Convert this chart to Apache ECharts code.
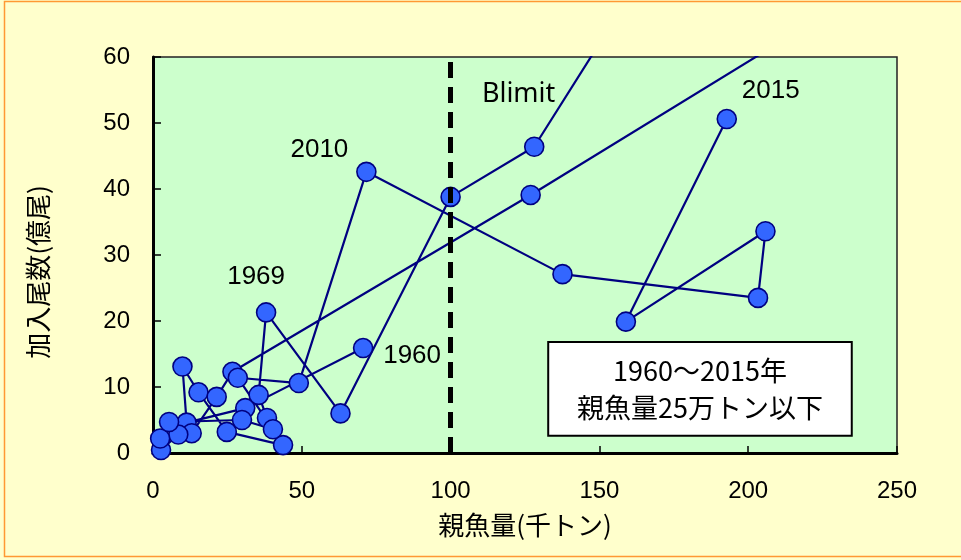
<!DOCTYPE html>
<html>
<head>
<meta charset="utf-8">
<script src="https://cdn.jsdelivr.net/npm/echarts@6/dist/echarts.min.js"></script>
<style>
html,body{margin:0;padding:0;background:#ffffcc;}
#c{width:961px;height:560px;}
</style>
</head>
<body>
<div id="c"></div>
<script>
// Years in order (1974-1996 are off the chart: spawning biomass above the range shown)
const years = [1960,1961,1962,1963,1964,1965,1966,1967,1968,1969,1970,1971,1972,1973,
               1997,1998,1999,2000,2001,2002,2003,2004,2005,2006,2007,2008,2009,2010,
               2011,2012,2013,2014,2015];
// 親魚量 (千トン)
const ssb = [70.6,31.0,11.3,9.9,15.3,24.8,43.7,38.3,35.5,38.0,63.0,100.0,128.1,166.3,
             278.5,126.9,26.7,21.4,13.0,8.5,2.7,2.4,5.4,29.9,40.3,28.5,49.0,71.7,
             137.6,203.3,205.8,158.9,192.8];
// 加入尾数 (億尾)
const recruits = [15.9,6.8,4.6,13.1,9.2,3.2,1.2,5.3,8.8,21.3,6.0,38.8,46.4,73.7,
                  81.0,39.1,12.3,8.5,3.0,2.8,0.45,2.2,4.7,5.0,3.6,11.4,10.6,42.6,
                  27.1,23.5,33.6,19.9,50.6];
const xTicks = [0,50,100,150,200,250];
const yTicks = [0,10,20,30,40,50,60];
const blimit = 100;
const blimitLabel = 'Blimit';
const yearLabels = [1960,1969,2010,2015];
const boxLines = ['1960～2015年','親魚量25万トン以下'];
const xTitle = '親魚量(千トン)';
const yTitle = '加入尾数(億尾)';

const chart = echarts.init(document.getElementById('c'), null, {renderer:'canvas'});
const numFont = "'Liberation Sans', Arial, sans-serif";
const cjkFont = "'Noto Sans CJK JP', sans-serif";

const points = ssb.map((x,i)=>[x, recruits[i]]);

chart.setOption({
  animation:false,
  backgroundColor:'#ffffcc',
  grid:{left:153, top:57, width:744, height:396, show:true,
        backgroundColor:'#ccffcc', borderColor:'#222', borderWidth:1.5},
  xAxis:{type:'value', min:xTicks[0], max:xTicks[xTicks.length-1], interval:xTicks[1]-xTicks[0],
    axisLine:{show:true, onZero:false, lineStyle:{color:'#000', width:3}},
    axisTick:{show:true, inside:true, length:7, lineStyle:{color:'#000', width:1.5}},
    axisLabel:{margin:26, fontSize:24, color:'#000', fontFamily:numFont},
    splitLine:{show:false}},
  yAxis:{type:'value', min:yTicks[0], max:yTicks[yTicks.length-1], interval:yTicks[1]-yTicks[0],
    axisLine:{show:true, onZero:false, lineStyle:{color:'#000', width:3}},
    axisTick:{show:true, inside:true, length:8, lineStyle:{color:'#000', width:1.5}},
    axisLabel:{margin:23, fontSize:24, color:'#000', fontFamily:numFont},
    splitLine:{show:false}},
  series:[
    {type:'line', data:points, clip:true, z:2,
     symbol:'circle', symbolSize:19, showSymbol:true, showAllSymbol:true,
     lineStyle:{color:'#000080', width:2.2},
     itemStyle:{color:'#3366ff', borderColor:'#000080', borderWidth:1.6},
     emphasis:{disabled:true}},
    {type:'line', data:[], z:5,
     markLine:{silent:true, symbol:['none','none'], label:{show:false},
       lineStyle:{color:'#000', width:5, type:[16,9]},
       data:[{xAxis:blimit}]}}
  ]
});

function px(x,y){ return chart.convertToPixel({gridIndex:0},[x,y]); }
const g = [];
g.push({type:'rect', shape:{x:4.5,y:1.5,width:1000,height:555},
        style:{fill:null, stroke:'#ff9933', lineWidth:1.5}, z:100, silent:true});
const offs = {1960:[49,8], 1969:[-10,-36], 2010:[-47,-22], 2015:[44,-28]};
yearLabels.forEach(yr=>{
  const i = years.indexOf(yr);
  const p = px(ssb[i], recruits[i]);
  g.push({type:'text', x:p[0]+offs[yr][0], y:p[1]+offs[yr][1], z:50,
    style:{text:String(yr), fontSize:26, fontFamily:numFont, fill:'#000', align:'center', verticalAlign:'middle'}});
});
const bp = px(blimit, yTicks[yTicks.length-1]);
g.push({type:'text', x:bp[0]+68, y:bp[1]+37, z:50,
  style:{text:blimitLabel, fontSize:27, fontFamily:"'Noto Sans', sans-serif", fill:'#000', align:'center', verticalAlign:'middle'}});
// annotation box
const b0 = px(132.8, 16.8), b1 = px(234.8, 2.6);
g.push({type:'rect', shape:{x:b0[0], y:b0[1], width:b1[0]-b0[0], height:b1[1]-b0[1]}, z:40,
  style:{fill:'#fff', stroke:'#000', lineWidth:2}});
g.push({type:'text', x:(b0[0]+b1[0])/2, y:b0[1]+29, z:50,
  style:{text:boxLines[0], fontSize:27, fontFamily:cjkFont, fill:'#000', align:'center', verticalAlign:'middle'}});
g.push({type:'text', x:(b0[0]+b1[0])/2, y:b0[1]+66, z:50,
  style:{text:boxLines[1], fontSize:27, fontFamily:cjkFont, fill:'#000', align:'center', verticalAlign:'middle'}});
// axis titles
g.push({type:'text', x:525, y:525, z:50,
  style:{text:xTitle, fontSize:26, fontFamily:cjkFont, fill:'#000', align:'center', verticalAlign:'middle'}});
g.push({type:'text', x:38, y:272, rotation:Math.PI/2, z:50,
  style:{text:yTitle, fontSize:26, fontFamily:cjkFont, fill:'#000', align:'center', verticalAlign:'middle'}});
chart.setOption({graphic:g});
</script>
</body>
</html>
